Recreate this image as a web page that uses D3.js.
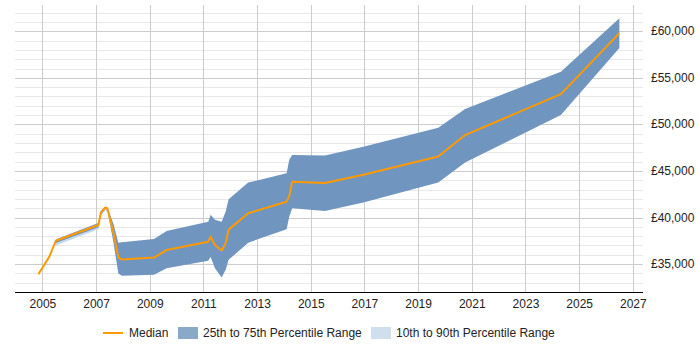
<!DOCTYPE html>
<html>
<head>
<meta charset="utf-8">
<script src="https://cdn.jsdelivr.net/npm/d3@7"></script>
<style>
  body { margin: 0; background: #fff; }
  svg { font-family: "Liberation Sans", Arial, sans-serif; }
</style>
</head>
<body>
<svg id="chart" width="700" height="350"></svg>
<script>
// Data (years as decimals)
const years = [2004.85, 2005.26, 2005.5, 2007.09, 2007.18, 2007.34, 2007.42, 2007.65, 2007.83, 2007.96,
  2009.16, 2009.63, 2011.18, 2011.27, 2011.43, 2011.68, 2011.83, 2011.94, 2012.67, 2014.1,
  2014.2, 2014.31, 2015.53, 2016.96, 2019.75, 2020.75, 2024.32, 2026.5];
const median = [33900, 35800, 37500, 39200, 40550, 41050, 41000, 38300, 35700, 35500,
  35700, 36500, 37400, 37950, 37050, 36450, 37250, 38700, 40450, 41700,
  42300, 43850, 43700, 44600, 46550, 48850, 53250, 59800];
const p25 = [null, null, 37250, 38950, 40300, 40900, 40850, 37300, 34000, 33750,
  33850, 34550, 35350, 35750, 34550, 33550, 34400, 35450, 37300, 38750,
  40100, 41000, 40700, 41600, 43750, 45900, 51000, 58200];
const p75 = [null, null, 37650, 39400, 40700, 41150, 41100, 39300, 37300, 37350,
  37700, 38550, 39550, 40300, 39750, 39550, 40650, 41950, 43750, 44750,
  46200, 46700, 46650, 47600, 49650, 51650, 55650, 61400];
const p10 = [null, null, 37000, 38750, 40150, 40750, 40650, null, null, null,
  null, null, null, null, null, null, null, null, null, null,
  null, null, null, null, null, null, null, null];
const p90 = [null, null, 37650, 39400, 40700, 41150, 41100, null, null, null,
  null, null, null, null, null, null, null, null, null, null,
  null, null, null, null, null, null, null, null];
const xTicks = [2005, 2007, 2009, 2011, 2013, 2015, 2017, 2019, 2021, 2023, 2025, 2027];
const yTicks = [35000, 40000, 45000, 50000, 55000, 60000];

const rows = years.map((yr, i) => ({
  year: yr, med: median[i], p25: p25[i], p75: p75[i], p10: p10[i], p90: p90[i]
}));

const svg = d3.select("#chart");
const plotLeft = 15, plotRight = 643, plotTop = 5, plotBottom = 292;

const x = d3.scaleLinear().domain([2003.98, 2027.38]).range([plotLeft, plotRight]);
const y = d3.scaleLinear().domain([32000, 62820]).range([plotBottom, plotTop]);

// grid: minor every 1000, major at labelled ticks
const grid = svg.append("g");
grid.selectAll(".minor")
  .data(d3.range(33000, 63000, 1000).filter(v => v % 5000 !== 0))
  .enter().append("line")
  .attr("x1", plotLeft).attr("x2", plotRight)
  .attr("y1", d => Math.round(y(d)) + 0.5).attr("y2", d => Math.round(y(d)) + 0.5)
  .attr("stroke", "#e8e8e8").attr("stroke-width", 1);
grid.selectAll(".major")
  .data(yTicks)
  .enter().append("line")
  .attr("x1", plotLeft).attr("x2", plotRight)
  .attr("y1", d => Math.round(y(d)) + 0.5).attr("y2", d => Math.round(y(d)) + 0.5)
  .attr("stroke", "#cccccc").attr("stroke-width", 1);
grid.selectAll(".vert")
  .data(xTicks)
  .enter().append("line")
  .attr("x1", d => Math.round(x(d)) + 0.5).attr("x2", d => Math.round(x(d)) + 0.5)
  .attr("y1", plotTop).attr("y2", plotBottom)
  .attr("stroke", "#cccccc").attr("stroke-width", 1);

// bands
const band10 = d3.area()
  .defined(d => d.p10 != null)
  .x(d => x(d.year)).y0(d => y(d.p10)).y1(d => y(d.p90));
const band25 = d3.area()
  .defined(d => d.p25 != null)
  .x(d => x(d.year)).y0(d => y(d.p25)).y1(d => y(d.p75));

svg.append("path").datum(rows).attr("d", band10).attr("fill", "#c6d9ee");
svg.append("path").datum(rows).attr("d", band25).attr("fill", "#7096bf");

// median line
const line = d3.line().x(d => x(d.year)).y(d => y(d.med));
svg.append("path").datum(rows).attr("d", line)
  .attr("fill", "none").attr("stroke", "#ff9900").attr("stroke-width", 2)
  .attr("stroke-linejoin", "round");

// x axis (no tick marks below, just the line and labels)
const xAxis = svg.append("g")
  .attr("transform", `translate(0,${plotBottom})`)
  .call(d3.axisBottom(x).tickValues(xTicks).tickFormat(d3.format("d")).tickSize(0).tickPadding(7));
xAxis.select(".domain").attr("stroke", "#000").attr("d", `M${plotLeft},0.5H${plotRight}`);
xAxis.selectAll("text").attr("font-size", 12).attr("fill", "#222").attr("font-family", "Liberation Sans, Arial, sans-serif");

// y labels on the right
svg.append("g").selectAll("text")
  .data(yTicks)
  .enter().append("text")
  .attr("x", 651).attr("y", d => y(d) + 4)
  .attr("font-size", 12).attr("fill", "#222")
  .text(d => "£" + d3.format(",")(d));

// legend
const legend = svg.append("g").attr("transform", "translate(0,333)");
legend.append("line").attr("x1", 103).attr("x2", 123).attr("y1", 0).attr("y2", 0)
  .attr("stroke", "#ff9900").attr("stroke-width", 2);
legend.append("text").attr("x", 129).attr("y", 4).attr("font-size", 12).attr("fill", "#222").text("Median");
legend.append("rect").attr("x", 178).attr("y", -6).attr("width", 20).attr("height", 12).attr("fill", "#8aa8c8");
legend.append("text").attr("x", 203).attr("y", 4).attr("font-size", 12).attr("fill", "#222").text("25th to 75th Percentile Range");
legend.append("rect").attr("x", 371).attr("y", -6).attr("width", 20).attr("height", 12).attr("fill", "#cfdfee");
legend.append("text").attr("x", 396).attr("y", 4).attr("font-size", 12).attr("fill", "#222").text("10th to 90th Percentile Range");
</script>
</body>
</html>
